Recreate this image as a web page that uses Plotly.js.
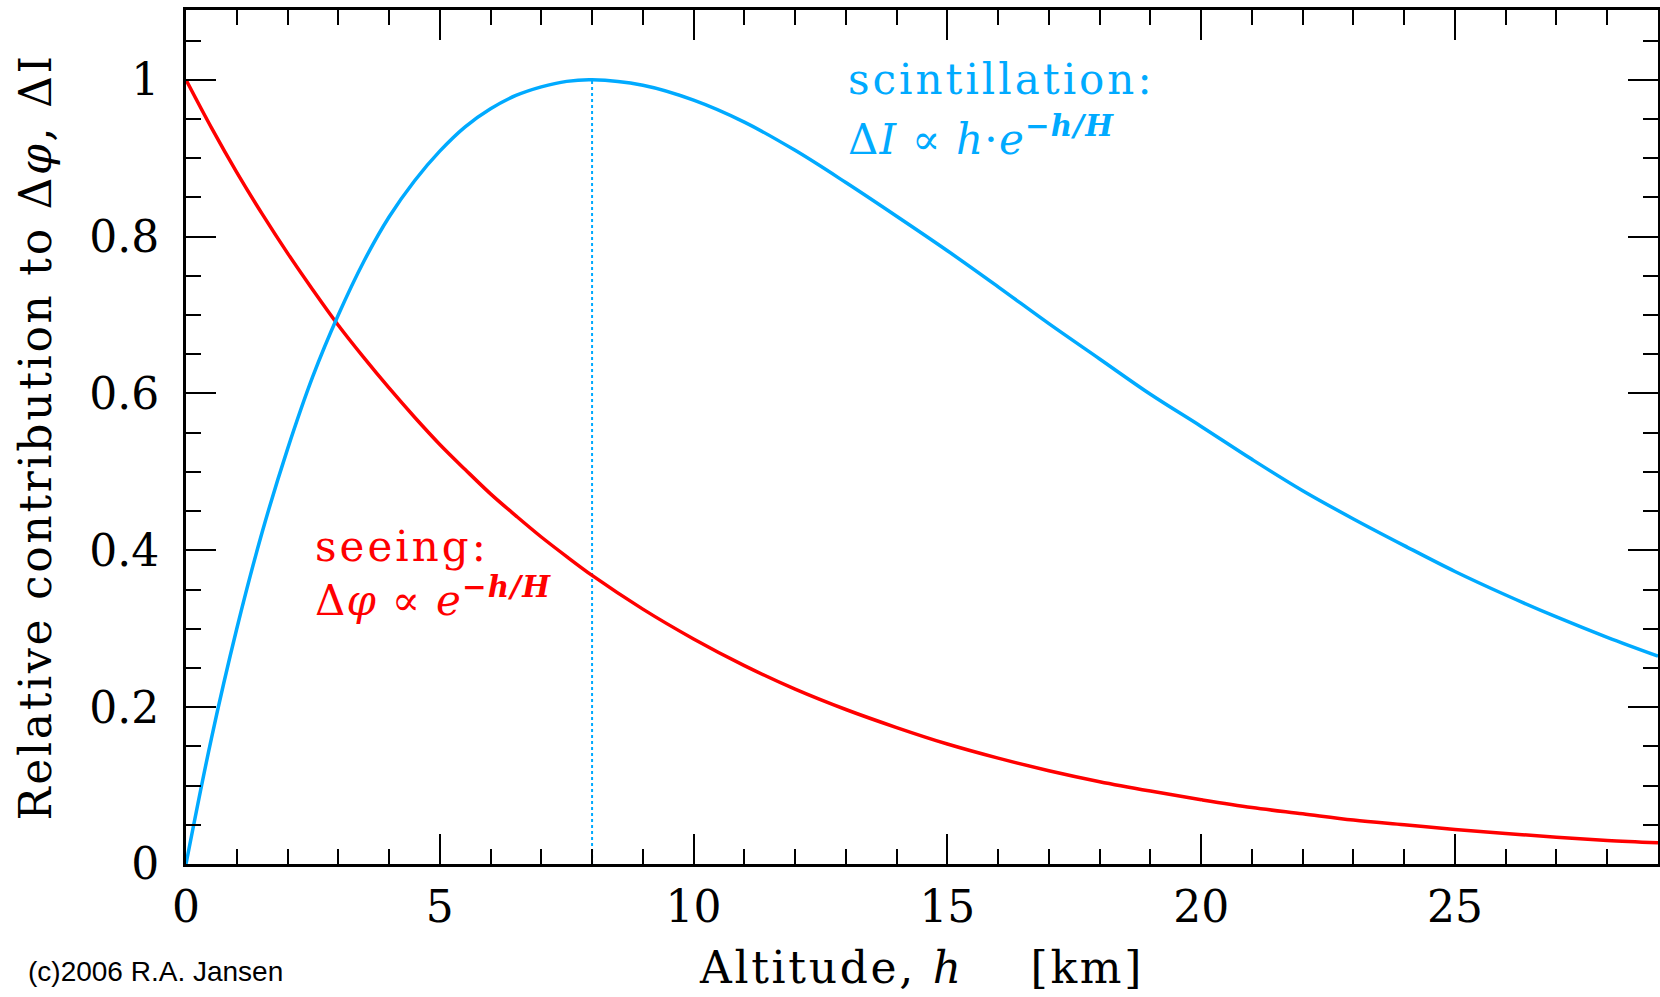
<!DOCTYPE html>
<html>
<head>
<meta charset="utf-8">
<script src="https://cdn.plot.ly/plotly-3.0.1.min.js"></script>
<style>
html,body{margin:0;padding:0;background:#fff;}
#chart{width:1660px;height:997px;}
#chart .g-xtitle text, #chart .g-ytitle text{letter-spacing:2.7px;}
#chart .annotation.spaced text{letter-spacing:3px;}
#chart .annotation.spaced2 text{letter-spacing:1.2px;}
</style>
</head>
<body>
<div id="chart"></div>
<script>
// Altitude h [km]
const altitude = [0, 0.5, 1, 1.5, 2, 2.5, 3, 3.5, 4, 4.5, 5, 5.5, 6, 6.5, 7, 7.5, 8, 9, 10, 11, 12, 13, 14, 15, 16, 17, 18, 19, 20, 21, 22, 23, 24, 25, 26, 27, 28, 29];
// seeing: relative contribution to delta-phi
const seeing = [1.000, 0.939, 0.882, 0.829, 0.779, 0.732, 0.687, 0.646, 0.607, 0.570, 0.535, 0.503, 0.472, 0.444, 0.417, 0.392, 0.368, 0.325, 0.287, 0.253, 0.223, 0.197, 0.174, 0.153, 0.135, 0.119, 0.105, 0.093, 0.082, 0.072, 0.064, 0.056, 0.050, 0.044, 0.039, 0.034, 0.030, 0.027];
// scintillation: relative contribution to delta-I
const scintillation = [0.000, 0.160, 0.300, 0.423, 0.529, 0.622, 0.700, 0.768, 0.825, 0.871, 0.909, 0.940, 0.963, 0.980, 0.991, 0.998, 1.000, 0.993, 0.974, 0.946, 0.910, 0.869, 0.826, 0.782, 0.736, 0.689, 0.644, 0.599, 0.558, 0.516, 0.476, 0.440, 0.406, 0.373, 0.343, 0.315, 0.289, 0.265];
// peak marker of scintillation
const peakX = [8, 8];
const peakY = [0, 1];
const xTicks = [0, 5, 10, 15, 20, 25];
const yTicks = [0, 0.2, 0.4, 0.6, 0.8, 1];
const yTickText = ['0', '0.2', '0.4', '0.6', '0.8', '1'];

const RED = '#ff0000';
const BLUE = '#00aaff';
const SERIF = '"DejaVu Serif", "Liberation Serif", serif';

const traces = [
  {x: peakX, y: peakY, mode: 'lines', line: {color: BLUE, width: 2, dash: 'dot'}, hoverinfo: 'skip', showlegend: false},
  {x: altitude, y: seeing, mode: 'lines', line: {color: RED, width: 3.5, shape: 'spline'}, showlegend: false, name: 'seeing'},
  {x: altitude, y: scintillation, mode: 'lines', line: {color: BLUE, width: 3.5, shape: 'spline'}, showlegend: false, name: 'scintillation'}
];

const axisCommon = {
  showgrid: false, zeroline: false, showline: true, linecolor: '#000', linewidth: 3,
  mirror: 'ticks', ticks: 'inside', ticklen: 30, tickwidth: 2, tickcolor: '#000',
  tickfont: {family: SERIF, size: 44, color: '#000'}
};

const layout = {
  width: 1660, height: 997,
  margin: {l: 186, r: 2, t: 10, b: 133},
  paper_bgcolor: '#fff', plot_bgcolor: '#fff',
  font: {family: SERIF, color: '#000'},
  xaxis: Object.assign({}, axisCommon, {
    range: [0, 29], tickmode: 'array', tickvals: xTicks,
    ticklabelstandoff: 2,
    minor: {dtick: 1, ticks: 'inside', ticklen: 15, tickwidth: 2, tickcolor: '#000'},
    title: {text: 'Altitude, <i>h</i>    [km]', font: {family: SERIF, size: 44, color: '#000'}, standoff: 22}
  }),
  yaxis: Object.assign({}, axisCommon, {
    range: [0, 1.089], tickmode: 'array', tickvals: yTicks, ticktext: yTickText,
    ticklabelstandoff: 15,
    minor: {dtick: 0.05, ticks: 'inside', ticklen: 15, tickwidth: 2, tickcolor: '#000'},
    title: {text: 'Relative contribution to Δ<i>φ</i>, ΔI', font: {family: SERIF, size: 44, color: '#000'}, standoff: 24}
  }),
  annotations: [
    {xref: 'x', yref: 'y', x: 13.0, y: 1.0, xanchor: 'left', yanchor: 'middle', showarrow: false,
     align: 'left', text: 'scintillation:', font: {family: SERIF, size: 42, color: BLUE}},
    {xref: 'x', yref: 'y', x: 13.0, y: 0.928, xanchor: 'left', yanchor: 'middle', showarrow: false,
     align: 'left', text: 'Δ<i>I</i> ∝ <i>h</i>·<i>e</i><sup><b><i>−h/H</i></b></sup>', font: {family: SERIF, size: 42, color: BLUE}},
    {xref: 'x', yref: 'y', x: 2.5, y: 0.405, xanchor: 'left', yanchor: 'middle', showarrow: false,
     align: 'left', text: 'seeing:', font: {family: SERIF, size: 42, color: RED}},
    {xref: 'x', yref: 'y', x: 2.5, y: 0.340, xanchor: 'left', yanchor: 'middle', showarrow: false,
     align: 'left', text: 'Δ<i>φ</i> ∝ <i>e</i><sup><b><i>−h/H</i></b></sup>', font: {family: SERIF, size: 42, color: RED}},
    {xref: 'paper', yref: 'paper', x: -0.109, y: -0.126, xanchor: 'left', yanchor: 'middle', showarrow: false,
     text: '(c)2006 R.A. Jansen', font: {family: '"Liberation Sans", Arial, sans-serif', size: 28, color: '#000'}}
  ]
};

Plotly.newPlot('chart', traces, layout, {displayModeBar: false, staticPlot: true}).then(function () {
  // widen letter spacing of the curve labels (not the copyright line)
  const anns = document.querySelectorAll('#chart .annotation');
  [0, 2].forEach(function (i) { if (anns[i]) anns[i].classList.add('spaced'); });
  [1, 3].forEach(function (i) { if (anns[i]) anns[i].classList.add('spaced2'); });
});
</script>
</body>
</html>
